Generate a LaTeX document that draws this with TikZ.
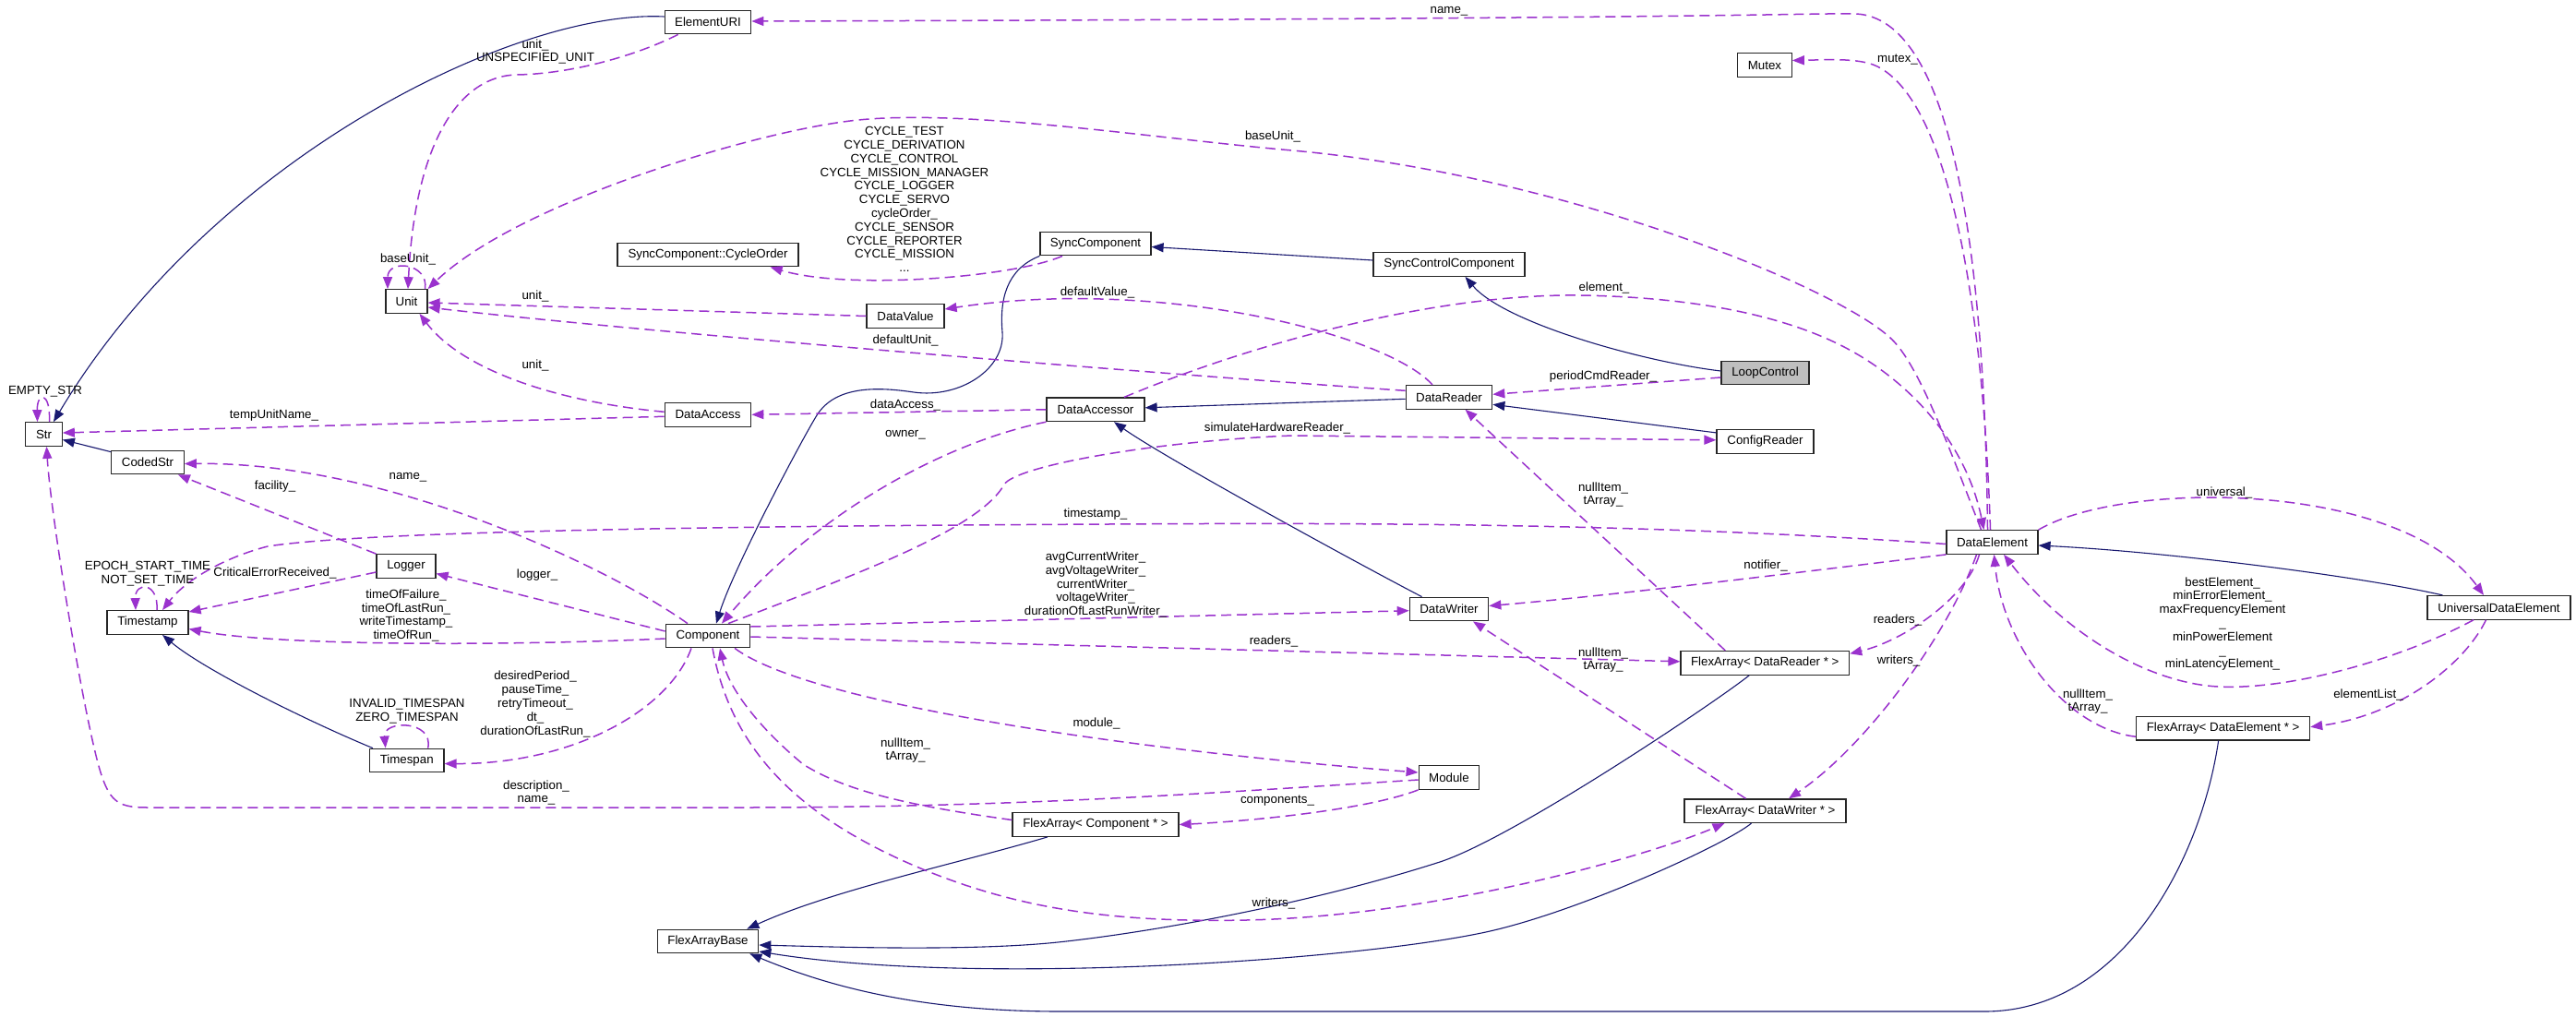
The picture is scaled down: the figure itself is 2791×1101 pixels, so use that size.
\documentclass[tikz,border=0pt]{standalone}
\usepackage{fontspec}
\setmainfont{Liberation Sans}
\usetikzlibrary{arrows.meta}
\definecolor{inhblue}{HTML}{191970}
\definecolor{usepurp}{HTML}{9A32CD}
\begin{document}
\begin{tikzpicture}[x=1pt,y=-1pt,
  every node/.style={font=\fontsize{13.3}{14.8}\selectfont},
  cls/.style={draw=black!85,line width=1.2pt,fill=white,minimum height=25.6pt,inner sep=1pt},
  lbl/.style={inner sep=0pt,align=center},
  inh/.style={draw=inhblue,line width=1.1pt,-{Triangle[length=13pt,width=10pt]},fill=none},
  use/.style={draw=usepurp,line width=1.5pt,dash pattern=on 11pt off 6pt,-{Triangle[length=13pt,width=10pt]}}]
\fill[white] (0,0) rectangle (2791,1101);
\useasboundingbox (0,0) rectangle (2791,1101);

% class nodes
\node[cls, minimum width=39.5pt] (Str) at (47.5,470.5) {Str};
\node[cls, minimum width=78.5pt] (CodedStr) at (160,501) {CodedStr};
\node[cls, minimum width=88pt] (Timestamp) at (160,674.5) {Timestamp};
\node[cls, minimum width=64pt] (Logger) at (440,613.5) {Logger};
\node[cls, minimum width=45pt] (Unit) at (440.5,326.5) {Unit};
\node[cls, minimum width=93.5pt] (ElementURI) at (767,24) {ElementURI};
\node[cls, minimum width=196pt] (CycleOrder) at (767,276) {SyncComponent::CycleOrder};
\node[cls, minimum width=120pt] (SyncComponent) at (1187,264) {SyncComponent};
\node[cls, minimum width=84pt] (DataValue) at (981,342.5) {DataValue};
\node[cls, minimum width=164pt] (SyncControl) at (1570,286.5) {SyncControlComponent};
\node[cls, minimum width=58.5pt] (Mutex) at (1912,70.5) {Mutex};
\node[cls, minimum width=93.5pt] (DataAccess) at (767,449.3) {DataAccess};
\node[cls, minimum width=106pt] (DataAccessor) at (1187,443.8) {DataAccessor};
\node[cls, minimum width=91.5pt] (Component) at (767,689) {Component};
\node[cls, minimum width=93.5pt] (DataReader) at (1570,430.3) {DataReader};
\node[cls, minimum width=95pt, fill=gray!50] (LoopControl) at (1912.5,404) {LoopControl};
\node[cls, minimum width=105pt] (ConfigReader) at (1912.5,478.3) {ConfigReader};
\node[cls, minimum width=85.5pt] (DataWriter) at (1570,660) {DataWriter};
\node[cls, minimum width=182.6pt] (FADR) at (1912.3,718.3) {FlexArray< DataReader * >};
\node[cls, minimum width=99pt] (DataElement) at (2158.5,587.5) {DataElement};
\node[cls, minimum width=155pt] (UDE) at (2707.5,658.3) {UniversalDataElement};
\node[cls, minimum width=80.5pt] (Timespan) at (440.7,824) {Timespan};
\node[cls, minimum width=109.5pt] (FAB) at (767,1020) {FlexArrayBase};
\node[cls, minimum width=180pt] (FAC) at (1187,893.5) {FlexArray< Component * >};
\node[cls, minimum width=65.7pt] (Module) at (1570,842.5) {Module};
\node[cls, minimum width=175pt] (FADW) at (1912.5,878.7) {FlexArray< DataWriter * >};
\node[cls, minimum width=188pt] (FADE) at (2408.6,789.2) {FlexArray< DataElement * >};

% inheritance
\draw[inh] ([yshift=6pt]ElementURI.west) .. controls (560,10) and (230,170) .. ([xshift=10.5pt]Str.north);
\draw[inh] ([yshift=-2pt]CodedStr.north west) -- ([yshift=-6pt]Str.east);
\draw[inh] ([xshift=4pt]Timespan.north west) .. controls (330,780) and (220,725) .. ([xshift=16pt]Timestamp.south);
\draw[inh] (SyncComponent.south west) .. controls (1090,292) and (1083,325) .. (1086,360) .. controls (1089,400) and (1040,432) .. (990,425) .. controls (950,419) and (905,418) .. (885,450) .. controls (870,474) and (795,615) .. ([xshift=9pt]Component.north);
\draw[inh] ([yshift=4.5pt]SyncControl.west) -- ([yshift=-3.5pt]SyncComponent.east);
\draw[inh] ([yshift=2pt]LoopControl.west) .. controls (1780,392) and (1630,350) .. ([xshift=17.5pt]SyncControl.south);
\draw[inh] ([yshift=-2pt]DataReader.west) -- ([yshift=2pt]DataAccessor.east);
\draw[inh] ([yshift=-4pt]ConfigReader.north west) -- ([yshift=-8pt]DataReader.east);
\draw[inh] ([xshift=-29.5pt]DataWriter.north) .. controls (1470,610) and (1260,495) .. ([xshift=20pt]DataAccessor.south);
\draw[inh] ([xshift=17pt]UDE.north west) .. controls (2560,625) and (2350,598) .. ([yshift=-3.5pt]DataElement.east);
\draw[inh] ([xshift=-52pt]FAC.south) .. controls (1040,935) and (900,965) .. ([xshift=-13pt]FAB.north east);
\draw[inh] ([xshift=-15pt]FADW.south) .. controls (1870,915) and (1700,993) .. (1600,1012) .. controls (1450,1042) and (1050,1068) .. ([yshift=-11pt]FAB.east);
\draw[inh] ([xshift=-17pt]FADR.south) .. controls (1860,760) and (1640,908) .. (1560,934) .. controls (1420,979) and (1250,1010) .. (1146,1021) .. controls (1050,1031) and (900,1026) .. ([yshift=-4pt]FAB.east);
\draw[inh] ([xshift=-5pt]FADE.south) .. controls (2385,930) and (2300,1096) .. (2150,1096) -- (1150,1096) .. controls (1000,1096) and (900,1070) .. ([xshift=-10pt]FAB.south east);

% usage
\draw[use] ([xshift=-5pt]DataElement.north) .. controls (2150,250) and (2110,20) .. (2011,15) .. controls (1950,14) and (1900,20) .. ([yshift=1pt]ElementURI.east);
\draw[use] ([xshift=-2pt]DataElement.north) .. controls (2148,320) and (2110,110) .. (2034,72) .. controls (2014,62) and (1975,65) .. ([yshift=5pt]Mutex.east);
\draw[use] ([xshift=-12pt]DataElement.north) .. controls (2110,480) and (2080,400) .. (2052,370) .. controls (2002,316) and (1700,190) .. (1400,163) .. controls (1250,150) and (1050,118) .. (930,130) .. controls (820,141) and (560,220) .. (Unit.north east);
\draw[use] ([xshift=15pt]ElementURI.south west) .. controls (690,60) and (620,80) .. (560,81) .. controls (500,82) and (450,150) .. ([xshift=1.5pt]Unit.north);
\draw[use] ([xshift=20pt]Unit.north) .. controls (465,285) and (420,280) .. ([xshift=-20.5pt]Unit.north);
\draw[use] (DataValue.west) -- ([yshift=-1.5pt]Unit.east);
\draw[use] ([yshift=7pt]DataReader.west) .. controls (1250,405) and (700,360) .. ([yshift=-6.5pt]Unit.east);
\draw[use] ([xshift=-18pt]DataReader.north) .. controls (1500,360) and (1250,300) .. ([yshift=7.5pt]DataValue.east);
\draw[use] ([xshift=31pt]DataAccessor.north) .. controls (1350,375) and (1550,318) .. (1712,320) .. controls (1830,322) and (1930,340) .. (2000,377) .. controls (2070,414) and (2130,480) .. ([xshift=-9pt]DataElement.north);
\draw[use] ([yshift=3pt]DataAccess.west) .. controls (600,435) and (500,400) .. ([xshift=14pt]Unit.south);
\draw[use] ([yshift=-2pt]DataAccess.west) -- ([yshift=1.5pt]Str.east);
\draw[use] (DataAccessor.west) -- (DataAccess.east);
\draw[use] (DataAccessor.south west) .. controls (1020,480) and (880,560) .. ([xshift=15pt]Component.north);
\draw[use] ([xshift=22pt]Component.north) .. controls (920,625) and (1060,575) .. (1088,525) .. controls (1100,505) and (1250,478) .. (1400,472) -- ([yshift=1.5pt]ConfigReader.west);
\draw[use] ([yshift=-2pt]DataElement.west) .. controls (1800,568) and (1500,566) .. (1200,568) .. controls (800,570) and (400,575) .. (290,592) .. controls (240,605) and (200,630) .. ([xshift=16pt]Timestamp.north);
\draw[use] ([xshift=10pt]Timestamp.north) .. controls (172,630) and (146,630) .. ([xshift=-13pt]Timestamp.north);
\draw[use] ([yshift=-6.5pt]Logger.west) -- ([yshift=11.5pt]Timestamp.east);
\draw[use] (Logger.north west) -- ([xshift=-7pt]CodedStr.south east);
\draw[use] ([xshift=-22pt]Component.north) .. controls (660,615) and (420,500) .. ([yshift=-1.5pt]CodedStr.east);
\draw[use] ([yshift=5pt]Component.west) -- ([yshift=-8pt]Logger.east);
\draw[use] ([yshift=-3pt]Component.west) .. controls (550,700) and (300,700) .. ([yshift=-7pt]Timestamp.east);
\draw[use] ([xshift=-18pt]Component.south) .. controls (725,770) and (620,828) .. ([yshift=-3.5pt]Timespan.east);
\draw[use] ([xshift=23pt]Timespan.north) .. controls (470,780) and (415,780) .. ([xshift=-23pt]Timespan.north);
\draw[use] ([yshift=-2.5pt]Module.west) .. controls (1300,860) and (1100,875) .. (800,875) -- (160,875) .. controls (130,875) and (120,870) .. (110,840) .. controls (93,790) and (55,560) .. ([xshift=3pt]Str.south);
\draw[use] ([xshift=29pt]Component.south) .. controls (880,765) and (1250,815) .. ([yshift=5.5pt]Module.west);
\draw[use] (Module.south west) .. controls (1480,878) and (1350,890) .. (FAC.east);
\draw[use] ([yshift=5pt]FAC.west) .. controls (1000,875) and (920,860) .. (870,828) .. controls (830,795) and (790,750) .. ([xshift=13pt]Component.south);
\draw[use] ([xshift=5pt]Component.south) .. controls (790,800) and (850,880) .. (1000,942) .. controls (1100,983) and (1200,1000) .. (1350,997) .. controls (1550,993) and (1780,930) .. ([xshift=-44pt]FADW.south);
\draw[use] ([yshift=-1pt]Component.east) -- ([yshift=1.5pt]FADR.west);
\draw[use] ([yshift=10pt]Component.east) -- ([yshift=-1.7pt]DataWriter.west);
\draw[use] ([xshift=-43pt]FADR.north) -- ([xshift=17.5pt]DataReader.south);
\draw[use] ([xshift=-21pt]FADW.north) -- ([xshift=26pt]DataWriter.south);
\draw[use] (DataElement.south west) .. controls (1950,620) and (1750,645) .. ([yshift=3.5pt]DataWriter.east);
\draw[use] ([xshift=-14pt]DataElement.south) .. controls (2130,650) and (2060,695) .. ([yshift=10pt]FADR.east);
\draw[use] ([xshift=-17pt]DataElement.south) .. controls (2110,690) and (2020,810) .. ([xshift=25.5pt]FADW.north);
\draw[use] (DataElement.north east) .. controls (2300,520) and (2600,520) .. ([xshift=-16.5pt]UDE.north);
\draw[use] ([xshift=-27.5pt]UDE.south) .. controls (2600,715) and (2480,748) .. (2403,744) .. controls (2330,740) and (2240,690) .. ([xshift=12.5pt]DataElement.south);
\draw[use] ([yshift=-9pt]FADE.west) .. controls (2240,790) and (2170,700) .. ([xshift=2pt]DataElement.south);
\draw[use] ([xshift=-14pt]UDE.south) .. controls (2670,720) and (2600,775) .. ([yshift=1.5pt]FADE.east);
\draw[use] ([yshift=-5pt]LoopControl.west) -- ([yshift=3pt]DataReader.east);
\draw[use] ([xshift=-36pt]SyncComponent.south) .. controls (1100,300) and (920,315) .. ([xshift=-31pt]CycleOrder.south east);
\draw[use] ([xshift=6pt]Str.north) .. controls (55,424) and (40,424) .. ([xshift=-7pt]Str.north);

% labels
\node[lbl] (Lname1) at (1570,12) {name\_};
\node[lbl] (Lmutex) at (2056,65) {mutex\_};
\node[lbl] (Lunit1) at (580,56) {unit\_\\UNSPECIFIED\_UNIT};
\node[lbl] (Lbase1) at (1379,148) {baseUnit\_};
\node[lbl] (Lcycle) at (980,216) {CYCLE\_TEST\\CYCLE\_DERIVATION\\CYCLE\_CONTROL\\CYCLE\_MISSION\_MANAGER\\CYCLE\_LOGGER\\CYCLE\_SERVO\\cycleOrder\_\\CYCLE\_SENSOR\\CYCLE\_REPORTER\\CYCLE\_MISSION\\...};
\node[lbl] (Lbase2) at (442,281) {baseUnit\_};
\node[lbl] (Lunit2) at (580,321) {unit\_};
\node[lbl] (Ldefval) at (1189,317) {defaultValue\_};
\node[lbl] (Lelement) at (1738,312) {element\_};
\node[lbl] (Ldefunit) at (981,369) {defaultUnit\_};
\node[lbl] (Lempty) at (49,424) {EMPTY\_STR};
\node[lbl] (Lunit3) at (580,396) {unit\_};
\node[lbl] (Ltemp) at (297,450) {tempUnitName\_};
\node[lbl] (Ldataacc) at (981,439) {dataAccess\_};
\node[lbl] (Lperiod) at (1737,408) {periodCmdReader\_};
\node[lbl] (Lowner) at (981,471) {owner\_};
\node[lbl] (Lsim) at (1384,464) {simulateHardwareReader\_};
\node[lbl] (Lfac) at (298,527) {facility\_};
\node[lbl] (Lname2) at (442,517) {name\_};
\node[lbl] (Ltimestamp) at (1187,557) {timestamp\_};
\node[lbl] (Lepoch) at (160,622) {EPOCH\_START\_TIME\\NOT\_SET\_TIME};
\node[lbl] (Lcrit) at (298,621) {CriticalErrorReceived\_};
\node[lbl] (Llogger) at (582,623) {logger\_};
\node[lbl] (Ltimes) at (440,667) {timeOfFailure\_\\timeOfLastRun\_\\writeTimestamp\_\\timeOfRun\_};
\node[lbl] (Lwriters1) at (1187,633.5) {avgCurrentWriter\_\\avgVoltageWriter\_\\currentWriter\_\\voltageWriter\_\\durationOfLastRunWriter\_};
\node[lbl] (Lreaders1) at (1380,695) {readers\_};
\node[lbl] (Lnotifier) at (1913,613) {notifier\_};
\node[lbl] (Lreaders2) at (2056,672) {readers\_};
\node[lbl] (Lwriters2) at (2057,716) {writers\_};
\node[lbl] (Lnull1) at (1737,536) {nullItem\_\\tArray\_};
\node[lbl] (Lnull2) at (1737,715) {nullItem\_\\tArray\_};
\node[lbl] (Luniversal) at (2410,534) {universal\_};
\node[lbl] (Lbest) at (2408,676) {bestElement\_\\minErrorElement\_\\maxFrequencyElement\\\_\\minPowerElement\hspace*{28pt}\\\_\\minLatencyElement\_};
\node[lbl] (Lnull3) at (2262,760) {nullItem\_\\tArray\_};
\node[lbl] (Lelist) at (2566,753) {elementList\_};
\node[lbl] (Ldesired) at (580,763) {desiredPeriod\_\\pauseTime\_\\retryTimeout\_\\dt\_\\durationOfLastRun\_};
\node[lbl] (Linvalid) at (441,771) {INVALID\_TIMESPAN\\ZERO\_TIMESPAN};
\node[lbl] (Ldesc) at (581,859) {description\_\\name\_};
\node[lbl] (Lmodule) at (1188,784) {module\_};
\node[lbl] (Lcomp) at (1384,868) {components\_};
\node[lbl] (Lnull4) at (981,813) {nullItem\_\\tArray\_};
\node[lbl] (Lwriters3) at (1380,979) {writers\_};
\end{tikzpicture}
\end{document}
